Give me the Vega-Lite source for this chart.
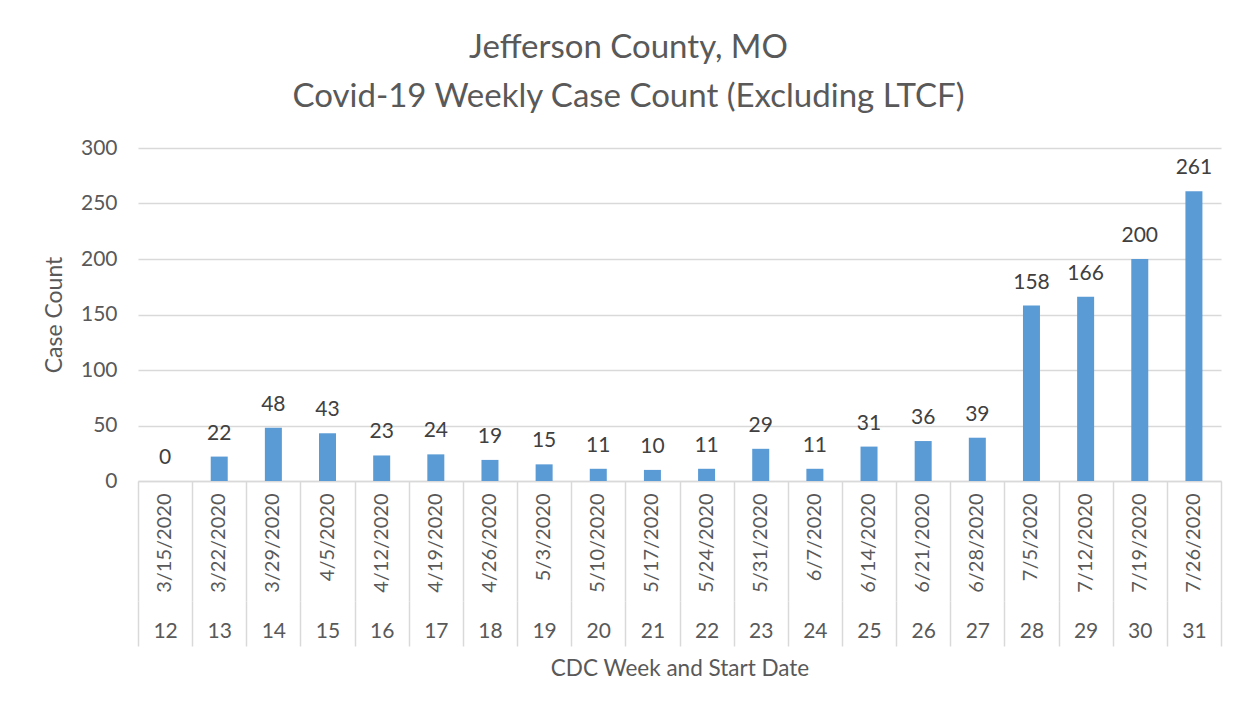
{
  "$schema": "https://vega.github.io/schema/vega-lite/v6.json",
  "width": 1083,
  "height": 333,
  "autosize": {"type": "none"},
  "padding": {"left": 138, "top": 148, "right": 28, "bottom": 234},
  "background": "white",
  "title": {
    "text": ["Jefferson County, MO", "Covid-19 Weekly Case Count (Excluding LTCF)"],
    "font": "Lato",
    "fontSize": 33,
    "fontWeight": "normal",
    "color": "#595959",
    "lineHeight": 49,
    "anchor": "middle",
    "dx": -51,
    "offset": 23
  },
  "config": {
    "view": {"stroke": null},
    "font": "Lato"
  },
  "data": {
    "values": [
      {"week": 12, "date": "3/15/2020", "count": 0},
      {"week": 13, "date": "3/22/2020", "count": 22},
      {"week": 14, "date": "3/29/2020", "count": 48},
      {"week": 15, "date": "4/5/2020", "count": 43},
      {"week": 16, "date": "4/12/2020", "count": 23},
      {"week": 17, "date": "4/19/2020", "count": 24},
      {"week": 18, "date": "4/26/2020", "count": 19},
      {"week": 19, "date": "5/3/2020", "count": 15},
      {"week": 20, "date": "5/10/2020", "count": 11},
      {"week": 21, "date": "5/17/2020", "count": 10},
      {"week": 22, "date": "5/24/2020", "count": 11},
      {"week": 23, "date": "5/31/2020", "count": 29},
      {"week": 24, "date": "6/7/2020", "count": 11},
      {"week": 25, "date": "6/14/2020", "count": 31},
      {"week": 26, "date": "6/21/2020", "count": 36},
      {"week": 27, "date": "6/28/2020", "count": 39},
      {"week": 28, "date": "7/5/2020", "count": 158},
      {"week": 29, "date": "7/12/2020", "count": 166},
      {"week": 30, "date": "7/19/2020", "count": 200},
      {"week": 31, "date": "7/26/2020", "count": 261}
    ]
  },
  "layer": [
    {
      "mark": {"type": "bar", "color": "#5b9bd5", "width": {"band": 0.314}},
      "encoding": {
        "x": {
          "field": "date",
          "type": "nominal",
          "sort": null,
          "scale": {"paddingInner": 0, "paddingOuter": 0},
          "axis": {
            "orient": "bottom",
            "title": null,
            "labels": false,
            "domainColor": "#d9d9d9",
            "domainWidth": 1.5,
            "tickColor": "#d9d9d9",
            "tickWidth": 1.5,
            "tickSize": 120,
            "tickBand": "extent",
            "grid": false
          }
        },
        "y": {
          "field": "count",
          "type": "quantitative",
          "scale": {"domain": [0, 300]},
          "axis": {
            "title": "Case Count",
            "titleFontSize": 23,
            "titleFontWeight": "normal",
            "titleColor": "#595959",
            "titlePadding": 14,
            "values": [0, 50, 100, 150, 200, 250, 300],
            "labelFontSize": 21,
            "labelColor": "#595959",
            "labelPadding": 21,
            "ticks": false,
            "domain": false,
            "gridColor": "#d9d9d9",
            "gridWidth": 1.5
          }
        }
      }
    },
    {
      "mark": {"type": "text", "color": "#404040", "fontSize": 21, "baseline": "alphabetic", "dy": -17},
      "encoding": {
        "x": {
          "field": "week",
          "type": "ordinal",
          "scale": {"paddingInner": 0, "paddingOuter": 0},
          "axis": {
            "orient": "bottom",
            "offset": 120,
            "title": "CDC Week and Start Date",
            "titleFontSize": 22.5,
            "titleFontWeight": "normal",
            "titleColor": "#595959",
            "titlePadding": 11,
            "labelAngle": 0,
            "labelFontSize": 21,
            "labelColor": "#595959",
            "labelBaseline": "top",
            "labelPadding": -26,
            "domain": false,
            "tickColor": "#d9d9d9",
            "tickWidth": 1.5,
            "tickSize": 45,
            "tickBand": "extent",
            "grid": false
          }
        },
        "y": {"field": "count", "type": "quantitative"},
        "text": {"field": "count", "type": "quantitative"}
      }
    },
    {
      "mark": {"type": "bar", "opacity": 0, "width": {"band": 0.314}},
      "encoding": {
        "x": {
          "field": "date",
          "type": "nominal",
          "sort": null,
          "scale": {"paddingInner": 0, "paddingOuter": 0},
          "axis": {
            "orient": "bottom",
            "title": null,
            "ticks": false,
            "tickSize": 0,
            "domain": false,
            "labelAngle": 270,
            "labelFontSize": 20,
            "labelColor": "#595959",
            "labelPadding": 12,
            "grid": false
          }
        },
        "y": {"field": "count", "type": "quantitative"}
      }
    }
  ],
  "resolve": {"scale": {"x": "independent"}, "axis": {"x": "independent"}}
}
